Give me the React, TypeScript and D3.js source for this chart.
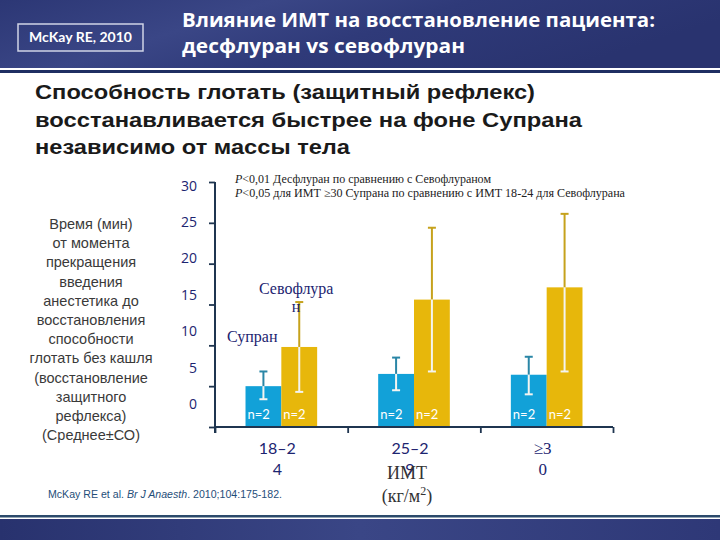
import React, { useEffect, useRef } from "react";
import * as d3 from "d3";

const categories = ["18–24", "25–29", "≥30"];
const seriesNames = ["Супран", "Севофлуран"];
const supranMean = [5.0, 6.5, 6.4];
const supranLow = [3.4, 4.5, 4.0];
const supranHigh = [6.8, 8.5, 8.6];
const sevoMean = [9.8, 15.6, 17.1];
const sevoLow = [4.3, 6.8, 6.8];
const sevoHigh = [15.3, 24.4, 26.1];
const supranN = ["n=20", "n=24", "n=21"];
const sevoN = ["n=20", "n=21", "n=21"];
const yTicks = [0, 5, 10, 15, 20, 25, 30];
const yTickLabels = ["0", "5", "10", "15", "20", "25", "30"];

const titleLines = ["Влияние ИМТ на восстановление пациента:", "десфлуран vs севофлуран"];
const subtitleLines = [
  "Способность глотать (защитный рефлекс)",
  "восстанавливается быстрее на фоне Супрана",
  "независимо от массы тела",
];
const yLabelLines = [
  "Время (мин)",
  "от момента",
  "прекращения",
  "введения",
  "анестетика до",
  "восстановления",
  "способности",
  "глотать без кашля",
  "(восстановление",
  "защитного",
  "рефлекса)",
  "(Среднее±СО)",
];

const W = 720;
const H = 540;
const plot = { left: 215, right: 613, top: 182, bottom: 427 };

const SUP = "#12a1d8";
const SEV = "#e7b70b";
const NAVY = "#1c2470";

export default function App() {
  const yAxisRef = useRef<SVGGElement>(null);
  const xAxisRef = useRef<SVGGElement>(null);

  const y = d3.scaleLinear().domain([0, 30]).range([plot.bottom, plot.top]);
  const yLab = d3.scaleLinear().domain([0, 30]).range([404, 185.5]);
  const x0 = d3
    .scaleBand<string>()
    .domain(categories)
    .range([plot.left, plot.right])
    .paddingInner(0.46)
    .paddingOuter(0.23);
  const x1 = d3.scaleBand<string>().domain(seriesNames).range([0, x0.bandwidth()]);

  useEffect(() => {
    const ya = d3.axisLeft(y).tickValues(yTicks).tickSize(6).tickFormat(() => "");
    const yg = d3.select(yAxisRef.current!);
    yg.call(ya as any);
    yg.select(".domain").remove();
    yg.selectAll(".tick line").attr("stroke", "#1f3550").attr("stroke-width", 1.8);

    const bounds = [plot.left, ...categories.map((c) => (x0(c) as number) - x0.step() * 0.23 + x0.step())];
    const xs = d3.scaleLinear().domain([plot.left, plot.right]).range([plot.left, plot.right]);
    const xa = d3.axisBottom(xs).tickValues(bounds).tickSize(6).tickFormat(() => "");
    const xg = d3.select(xAxisRef.current!);
    xg.call(xa as any);
    xg.select(".domain").remove();
    xg.selectAll(".tick line").attr("stroke", "#1f3550").attr("stroke-width", 1.8);
  }, []);

  const series = [
    { name: seriesNames[0], mean: supranMean, low: supranLow, high: supranHigh, n: supranN, color: SUP, dark: "#2a86a6" },
    { name: seriesNames[1], mean: sevoMean, low: sevoLow, high: sevoHigh, n: sevoN, color: SEV, dark: "#c6a21c" },
  ];

  return (
    <svg width={W} height={H} style={{ position: "absolute", left: 0, top: 0, background: "#fff" }}>
      <defs>
        <linearGradient id="hdr" x1="0" y1="0" x2="1" y2="0.3">
          <stop offset="0" stopColor="#2c3775" />
          <stop offset="0.35" stopColor="#3a4686" />
          <stop offset="0.6" stopColor="#2f3a79" />
          <stop offset="1" stopColor="#29336f" />
        </linearGradient>
        <linearGradient id="ftr" x1="0" y1="0" x2="1" y2="0">
          <stop offset="0" stopColor="#28326e" />
          <stop offset="0.5" stopColor="#3a4686" />
          <stop offset="1" stopColor="#2e3877" />
        </linearGradient>
        <clipPath id="plotclip">
          <rect x={0} y={0} width={W} height={plot.bottom} />
        </clipPath>
      </defs>

      {/* header */}
      <rect x={0} y={0} width={W} height={68} fill="url(#hdr)" />
      <rect x={0} y={70} width={W} height={3} fill="#1f2f62" />
      <rect x={18} y={24} width={125} height={27} fill="none" stroke="#d0d4e6" strokeWidth={1.5} />
      <text x={80.5} y={42} textAnchor="middle" fill="#fff" fontFamily="Lato, 'Open Sans', sans-serif" fontWeight="bold" fontSize={14}>
        McKay RE, 2010
      </text>
      {titleLines.map((t, i) => (
        <text
          key={t}
          x={182}
          y={27 + i * 26}
          fill="#fff"
          fontFamily="'Open Sans', Lato, sans-serif"
          fontWeight="bold"
          fontSize={20}
          textLength={i === 0 ? 473 : 283}
          lengthAdjust="spacingAndGlyphs"
        >
          {t}
        </text>
      ))}

      {/* subtitle */}
      {subtitleLines.map((t, i) => (
        <text
          key={t}
          x={35}
          y={99 + i * 27.5}
          fill="#1a1a1a"
          fontFamily="'Liberation Sans', Arial, sans-serif"
          fontWeight="bold"
          fontSize={21}
          textLength={[500, 547, 315][i]}
          lengthAdjust="spacingAndGlyphs"
        >
          {t}
        </text>
      ))}

      {/* note */}
      <text x={235} y={183} fontFamily="'Liberation Serif', 'Times New Roman', serif" fontSize={11.5} fill="#222" textLength={256} lengthAdjust="spacingAndGlyphs">
        <tspan fontStyle="italic">P</tspan>&lt;0,01 Десфлуран по сравнению с Севофлураном
      </text>
      <text x={235} y={197} fontFamily="'Liberation Serif', 'Times New Roman', serif" fontSize={11.5} fill="#222" textLength={390} lengthAdjust="spacingAndGlyphs">
        <tspan fontStyle="italic">P</tspan>&lt;0,05 для ИМТ ≥30 Супрана по сравнению с  ИМТ 18-24 для Севофлурана
      </text>

      {/* y label block */}
      {yLabelLines.map((t, i) => (
        <text
          key={t}
          x={91}
          y={229 + i * 19.2}
          textAnchor="middle"
          fill="#3a3a3a"
          fontFamily="'Liberation Sans', Arial, sans-serif"
          fontSize={14.5}
        >
          {t}
        </text>
      ))}

      {/* y tick labels */}
      {yTicks.map((v, i) => (
        <text key={v} x={197} y={yLab(v) + 5} textAnchor="end" fill={NAVY} fontFamily="'Open Sans', sans-serif" fontSize={14}>
          {yTickLabels[i]}
        </text>
      ))}

      {/* bars */}
      {categories.map((c, ci) =>
        series.map((s) => {
          const bx = (x0(c) as number) + (x1(s.name) as number);
          const bw = x1.bandwidth();
          const cx = bx + bw / 2;
          const top = y(s.mean[ci]);
          const n = s.n[ci];
          return (
            <g key={c + s.name}>
              <rect x={bx} y={top} width={bw} height={plot.bottom - top} fill={s.color} />
              <line x1={cx} x2={cx} y1={y(s.high[ci])} y2={top} stroke={s.dark} strokeWidth={2} />
              <line x1={cx - 4} x2={cx + 4} y1={y(s.high[ci])} y2={y(s.high[ci])} stroke={s.dark} strokeWidth={2} />
              <line x1={cx} x2={cx} y1={top} y2={y(s.low[ci])} stroke="#f4f4f0" strokeWidth={2} />
              <line x1={cx - 4} x2={cx + 4} y1={y(s.low[ci])} y2={y(s.low[ci])} stroke="#f4f4f0" strokeWidth={2} />
              <g clipPath="url(#plotclip)">
                <text x={bx + 2} y={419} fill="#fff" fontFamily="Lato, 'Open Sans', sans-serif" fontSize={13}>
                  {n.slice(0, 3)}
                </text>
                <text x={bx + 4} y={436} fill="#fff" fontFamily="Lato, 'Open Sans', sans-serif" fontSize={13}>
                  {n.slice(3)}
                </text>
              </g>
            </g>
          );
        })
      )}

      {/* axes */}
      <line x1={plot.left} x2={plot.left} y1={plot.top} y2={plot.bottom + 6} stroke="#1f3550" strokeWidth={2} />
      <line x1={plot.left} x2={plot.right} y1={plot.bottom} y2={plot.bottom} stroke="#1f3550" strokeWidth={2} />
      <g ref={yAxisRef} transform={`translate(${plot.left},0)`} />
      <g ref={xAxisRef} transform={`translate(0,${plot.bottom})`} />

      {/* category labels */}
      {categories.map((c) => {
        const cx = (x0(c) as number) + x0.bandwidth() / 2 - 4;
        const isTimes = c.startsWith("≥");
        return (
          <g key={c} fill={NAVY} fontSize={isTimes ? 17 : 16} fontFamily={isTimes ? "'Liberation Serif', serif" : "Lato, 'Open Sans', sans-serif"}>
            <text x={cx} y={454} textAnchor="middle">{c.slice(0, -1)}</text>
            <text x={cx} y={475} textAnchor="middle">{c.slice(-1)}</text>
          </g>
        );
      })}

      {/* series labels */}
      <text x={259} y={294} fill={NAVY} fontFamily="'Liberation Serif', 'Times New Roman', serif" fontSize={16}>Севофлура</text>
      <text x={296} y={312} textAnchor="middle" fill={NAVY} fontFamily="'Liberation Serif', 'Times New Roman', serif" fontSize={16}>н</text>
      <text x={227} y={342} fill={NAVY} fontFamily="'Liberation Serif', 'Times New Roman', serif" fontSize={16}>Супран</text>

      {/* x title */}
      <text x={407} y={479} textAnchor="middle" fill="#333" fontFamily="'Liberation Serif', 'Times New Roman', serif" fontSize={18}>ИМТ</text>
      <text x={407} y={502} textAnchor="middle" fill="#333" fontFamily="'Liberation Serif', 'Times New Roman', serif" fontSize={18}>
        (кг/м<tspan dy={-7} fontSize={12}>2</tspan><tspan dy={7}>)</tspan>
      </text>

      {/* citation */}
      <text x={48} y={498} fill="#1f4e79" fontFamily="'Liberation Sans Narrow', 'Liberation Sans', sans-serif" fontSize={11} textLength={234} lengthAdjust="spacingAndGlyphs">
        McKay RE et al. <tspan fontStyle="italic">Br J Anaesth</tspan>. 2010;104:175-182.
      </text>

      {/* footer */}
      <rect x={0} y={515} width={W} height={2.5} fill="#2b4a6b" />
      <rect x={0} y={519} width={W} height={21} fill="url(#ftr)" />
    </svg>
  );
}
